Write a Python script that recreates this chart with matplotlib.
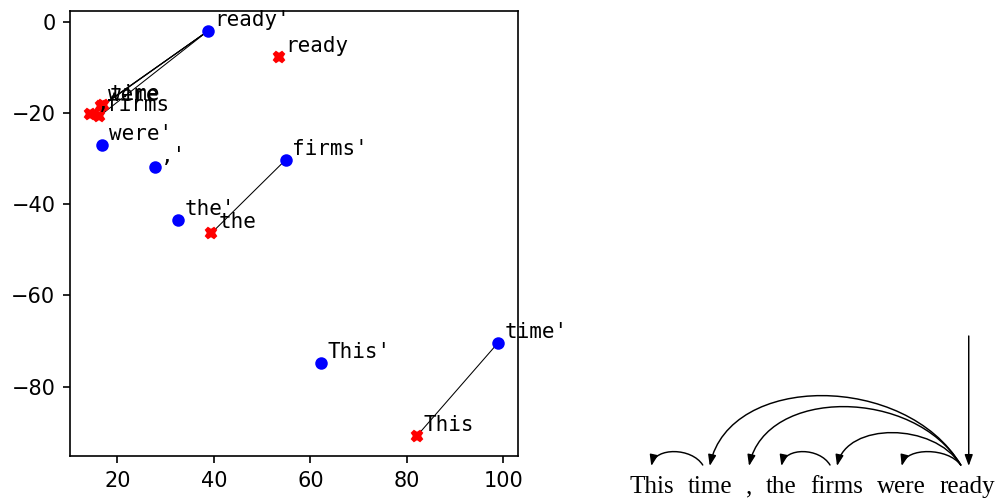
"""Projected word embeddings next to the dependency tree of the same sentence."""

import numpy as np
import matplotlib

matplotlib.use("Agg")
import matplotlib.pyplot as plt
from matplotlib.path import Path
from matplotlib.patches import FancyArrowPatch

# sentence and its dependency heads (-1 = root)
words = ["This", "time", ",", "the", "firms", "were", "ready"]
heads = [1, 6, 6, 4, 6, 6, -1]

# projected head representations (blue, labelled word')
head_x = [62.2, 98.8, 27.7, 32.5, 54.9, 16.9, 38.7]
head_y = [-74.9, -70.5, -31.7, -43.4, -30.2, -26.9, -2.0]

# projected dependent representations (red, labelled word)
dep_x = [82.1, 17.0, 14.4, 39.5, 16.2, 16.6, 53.5]
dep_y = [-90.8, -18.3, -20.1, -46.3, -20.7, -18.5, -7.7]

DPI = 150
W, H = 997, 502

# arc peak height (px) by word distance, as drawn in the tree
ARC_PEAK = {1: 14, 2: 33, 3: 47, 4: 59, 5: 70, 6: 80}


def draw_projection(ax):
    # edges head' -> dependent
    for i, h in enumerate(heads):
        if h < 0:
            continue
        ax.plot([head_x[h], dep_x[i]], [head_y[h], dep_y[i]], color="black", lw=0.5, zorder=1)
    ax.plot(head_x, head_y, "o", color="blue", ms=5, zorder=2)
    ax.plot(dep_x, dep_y, "X", color="red", ms=5, zorder=2)
    for w, x, y in zip(words, head_x, head_y):
        ax.annotate(w + "'", (x, y), xytext=(3.2, 2.4), textcoords="offset points",
                    family="DejaVu Sans Mono", fontsize=10)
    for w, x, y in zip(words, dep_x, dep_y):
        ax.annotate(w, (x, y), xytext=(3.2, 2.4), textcoords="offset points",
                    family="DejaVu Sans Mono", fontsize=10)


def draw_tree(fig, ax):
    ax.set_xlim(0, W)
    ax.set_ylim(H, 0)
    ax.axis("off")
    renderer = fig.canvas.get_renderer()

    x, base = 629.0, 493.0
    gap = 13.8
    centers = []
    for w in words:
        t = ax.text(x, base, w, family="Liberation Serif", fontsize=12, va="baseline", ha="left")
        bb = t.get_window_extent(renderer)
        centers.append(x + bb.width / 2)
        x += bb.width + gap

    style = "-|>,head_length=0.55,head_width=0.2"
    y0 = 466.0
    for i, h in enumerate(heads):
        if h < 0:
            xs = centers[i] + 1
            arr = FancyArrowPatch((xs, 336), (xs, y0), arrowstyle=style, mutation_scale=8,
                                  lw=0.7, color="black", shrinkA=0, shrinkB=0)
            ax.add_patch(arr)
            continue
        xs = centers[h] - 7
        xe = centers[i]
        span = abs(xs - xe)
        sign = 1 if xs > xe else -1
        top = y0 - ARC_PEAK[abs(h - i)] / 0.75
        path = Path([(xs, y0 - 1), (xs - sign * 0.22 * span, top),
                     (xe + sign * 0.08 * span, top), (xe, y0)],
                    [Path.MOVETO, Path.CURVE4, Path.CURVE4, Path.CURVE4])
        arr = FancyArrowPatch(path=path, arrowstyle=style, mutation_scale=8,
                              lw=0.7, color="black")
        ax.add_patch(arr)


def main():
    fig = plt.figure(figsize=(W / DPI, H / DPI), dpi=DPI)
    ax = fig.add_axes([70 / W, 1 - 456 / H, 448 / W, 445 / H])
    draw_projection(ax)
    ax_tree = fig.add_axes([0, 0, 1, 1])
    draw_tree(fig, ax_tree)
    fig.savefig("out.png", dpi=DPI)
    plt.close(fig)


if __name__ == "__main__":
    main()
